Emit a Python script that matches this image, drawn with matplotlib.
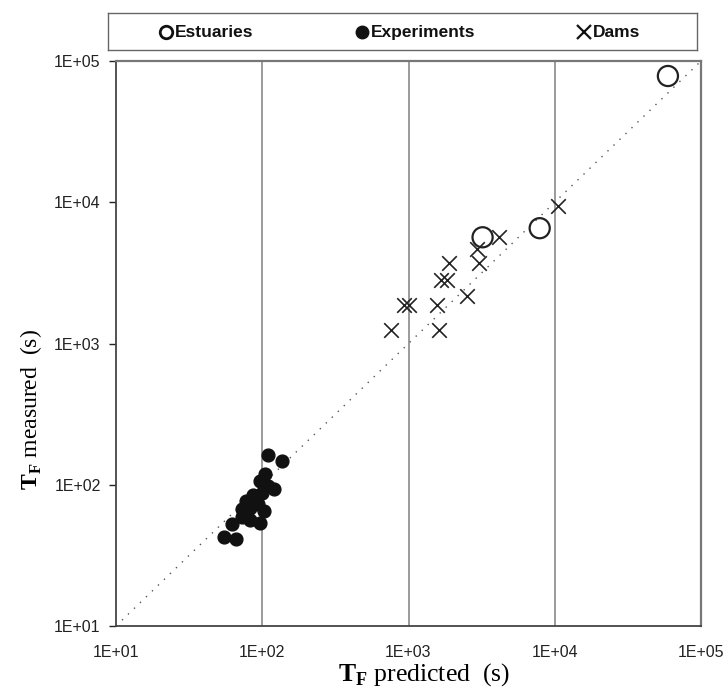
import matplotlib
matplotlib.use("Agg")
import matplotlib.pyplot as plt

plt.rcParams["font.family"] = ["Liberation Sans", "DejaVu Sans"]
plt.rcParams["mathtext.fontset"] = "custom"
plt.rcParams["mathtext.rm"] = "Liberation Serif"
plt.rcParams["mathtext.bf"] = "Liberation Serif:bold"

# Estuaries (open circles): predicted vs measured time, s
est_pred = [59400, 3210, 7890]
est_meas = [78300, 5650, 6550]

# Laboratory experiments (filled circles)
exp_pred = [110, 136, 105, 97, 121, 110, 99.6, 87, 77, 73, 83, 94,
            73, 83, 96, 62, 55, 66, 102]
exp_meas = [163, 148, 119, 107, 93, 98, 88, 84, 77, 67, 69, 73,
            59, 56, 54, 53, 43, 41, 65]

# Dam-break cases (crosses)
dam_pred = [10600, 4150, 2920, 3050, 1890, 1680, 1840, 2520, 929, 1000,
            1560, 760, 1610]
dam_meas = [9420, 5680, 4700, 3730, 3730, 2800, 2800, 2160, 1860, 1860,
            1860, 1240, 1240]

limits = [1e1, 1e5]
tick_vals = [1e1, 1e2, 1e3, 1e4, 1e5]
tick_labels = ["1E+01", "1E+02", "1E+03", "1E+04", "1E+05"]
series_names = ["Estuaries", "Experiments", "Dams"]

W, H = 727, 692
fig = plt.figure(figsize=(W / 100, H / 100), dpi=100)
ax = fig.add_axes([116 / W, 1 - 626 / H, 585 / W, 565 / H])
ax.set_xscale("log")
ax.set_yscale("log")
ax.set_xlim(limits)
ax.set_ylim(limits)

# vertical grid at each decade
for v in tick_vals[1:-1]:
    ax.axvline(v, color="#8a8a8a", lw=1.2, zorder=0)

# 1:1 reference line
ax.plot(limits, limits, color="#555555", lw=1.0, ls=(0, (1, 5)), zorder=1)

ax.scatter(est_pred, est_meas, s=210, facecolors="none", edgecolors="#222222",
           linewidths=1.6, zorder=3)
ax.scatter(exp_pred, exp_meas, s=85, color="#111111", zorder=3)
ax.scatter(dam_pred, dam_meas, s=110, marker="x", color="#222222",
           linewidths=1.2, zorder=3)

ax.set_xticks(tick_vals)
ax.set_xticklabels(tick_labels)
ax.set_yticks(tick_vals)
ax.set_yticklabels(tick_labels)
ax.minorticks_off()
ax.tick_params(axis="x", length=0, pad=14, labelsize=11.5, colors="#222222")
ax.tick_params(axis="y", length=5, width=1, direction="out", pad=6,
               labelsize=11.5, colors="#222222")

for side in ["left", "bottom"]:
    ax.spines[side].set_color("#444444")
    ax.spines[side].set_linewidth(1.3)
for side in ["top", "right"]:
    ax.spines[side].set_color("#777777")
    ax.spines[side].set_linewidth(1.6)

ax.set_xlabel(r"$\mathbf{T}_{\mathbf{F}}$ predicted  (s)", fontsize=18.5,
              family="Liberation Serif")
ax.xaxis.set_label_coords((424 - 116) / 585, (626 - 661) / 565)
ax.set_ylabel(r"$\mathbf{T}_{\mathbf{F}}$ measured  (s)", fontsize=17,
              family="Liberation Serif")
ax.yaxis.set_label_coords((44 - 116) / 585, (626 - 410) / 565)

# legend strip above the plot
lax = fig.add_axes([108 / W, 1 - 50 / H, 589 / W, 37 / H])
lax.set_xlim(0, 589)
lax.set_ylim(0, 1)
lax.set_xticks([])
lax.set_yticks([])
for sp in lax.spines.values():
    sp.set_color("#666666")
    sp.set_linewidth(1.0)
key_x = [58, 254, 476]
lax.plot(key_x[0], 0.5, ls="none", marker="o", mfc="none", mec="#111111",
         mew=2.0, ms=9)
lax.plot(key_x[1], 0.5, ls="none", marker="o", color="#111111", ms=9)
lax.plot(key_x[2], 0.5, ls="none", marker="x", color="#111111", mew=1.6,
         ms=10)
for kx, name in zip(key_x, series_names):
    lax.text(kx + 9, 0.47, name, ha="left", va="center", fontsize=12.5,
             fontweight="bold", color="#111111")

fig.savefig("out.png", dpi=100)
